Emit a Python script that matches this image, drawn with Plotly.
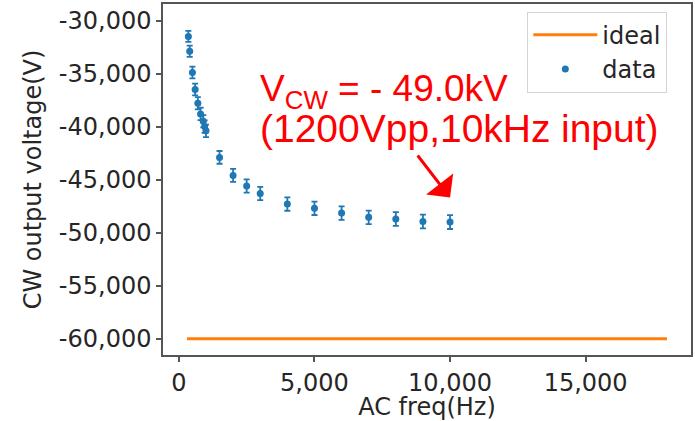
import plotly.graph_objects as go

# ---- data ----
freq_hz = [350, 400, 500, 600, 700, 800, 900, 950, 1000,
           1500, 2000, 2500, 3000, 4000, 5000, 6000, 7000, 8000, 9000, 10000]
vcw_volts = [-31500, -32900, -34900, -36500, -37800, -38800, -39500, -40000, -40400,
             -42900, -44600, -45600, -46300, -47300, -47700, -48150, -48550, -48700, -48950, -49000]
vcw_err = [520, 530, 550, 560, 570, 580, 580, 590, 590,
           600, 610, 620, 620, 630, 630, 640, 640, 650, 650, 650]

ideal_freq = [300, 18000]
ideal_volts = [-60000, -60000]

x_tick_vals = [0, 5000, 10000, 15000]
x_tick_text = ["0", "5,000", "10,000", "15,000"]
y_tick_vals = [-30000, -35000, -40000, -45000, -50000, -55000, -60000]
y_tick_text = ["-30,000", "-35,000", "-40,000", "-45,000", "-50,000", "-55,000", "-60,000"]

x_range = [-585, 18885]
y_range = [-61525, -28444]

axis_font = dict(family="DejaVu Sans", size=24, color="#262626")
red = "#ff0000"

fig = go.Figure()
fig.add_trace(go.Scatter(
    x=ideal_freq, y=ideal_volts, mode="lines", name="ideal",
    line=dict(color="#ff7f0e", width=3)))
fig.add_trace(go.Scatter(
    x=freq_hz, y=vcw_volts, mode="markers", name="data",
    marker=dict(color="#1f77b4", size=7),
    error_y=dict(type="data", array=vcw_err, color="#1f77b4", thickness=1.8, width=3)))

fig.update_layout(
    width=695, height=421,
    margin=dict(l=163, r=3, t=2, b=66),
    paper_bgcolor="white", plot_bgcolor="white",
    font=axis_font,
    showlegend=True,
    legend=dict(x=0.69, y=0.978, xanchor="left", yanchor="top",
                bgcolor="white", bordercolor="#d4d4d4", borderwidth=1,
                font=dict(family="DejaVu Sans", size=24, color="#262626"),
                itemwidth=64, tracegroupgap=9),
    xaxis=dict(range=x_range, tickvals=x_tick_vals, ticktext=x_tick_text,
               showgrid=False, zeroline=False, showline=True, mirror=True,
               linecolor="#555555", linewidth=1.5, ticks="outside", ticklen=5,
               tickcolor="#555555", tickwidth=1.5,
               title=dict(text="AC freq(Hz)", font=axis_font, standoff=4)),
    yaxis=dict(range=y_range, tickvals=y_tick_vals, ticktext=y_tick_text,
               showgrid=False, zeroline=False, showline=True, mirror=True,
               linecolor="#555555", linewidth=1.5, ticks="outside", ticklen=5,
               tickcolor="#555555", tickwidth=1.5,
               title=dict(text="CW output voltage(V)", font=axis_font, standoff=10)),
)

ann_font = dict(family="Liberation Sans", size=37, color=red)
ann_font2 = dict(family="Liberation Sans", size=39, color=red)
fig.add_annotation(xref="paper", yref="paper", x=0.1796, y=0.7535,
                   xanchor="left", yanchor="middle", showarrow=False,
                   text="V<sub>CW</sub> = - 49.0kV", font=ann_font)
fig.add_annotation(xref="paper", yref="paper", x=0.1796, y=0.645,
                   xanchor="left", yanchor="middle", showarrow=False,
                   text="(1200Vpp,10kHz", font=ann_font2)
fig.add_annotation(xref="paper", yref="paper", x=0.7505, y=0.645,
                   xanchor="left", yanchor="middle", showarrow=False,
                   text="input)", font=ann_font2)
fig.add_annotation(x=10000, y=-46690, ax=8763, ay=-42580, axref="x", ayref="y",
                   xref="x", yref="y", text="", showarrow=True,
                   arrowhead=1, arrowsize=1.9, arrowwidth=3, arrowcolor=red, standoff=0)

fig.write_html("out.html", config={"displayModeBar": False},
               post_script="document.body.style.margin='0';")
